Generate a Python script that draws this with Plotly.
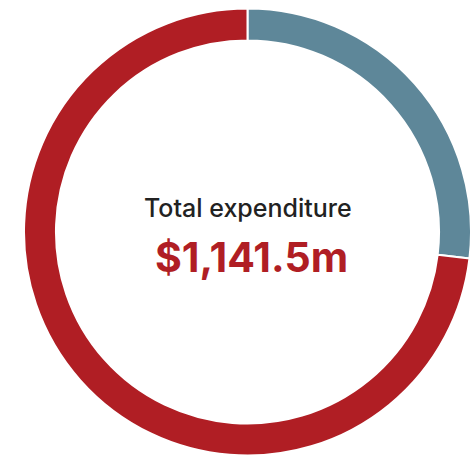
import plotly.graph_objects as go

labels = ["Segment A", "Segment B"]
values = [307.0, 834.5]
colors = ["#5E8799", "#B01E24"]
title_text = "Total expenditure"
total_text = "$1,141.5m"

W, H = 471, 459
fig = go.Figure(go.Pie(
    labels=labels, values=values, sort=False, direction="clockwise", rotation=0,
    hole=0.857, marker=dict(colors=colors, line=dict(color="white", width=2)),
    textinfo="none", hoverinfo="none",
    domain=dict(x=[24 / W, 1], y=[3 / H, 451 / H]),
))
fig.add_annotation(x=248, y=H - 208, xref="x", yref="y", text=title_text, showarrow=False,
                   font=dict(family="Inter", size=25, color="#222222", weight=500))
fig.add_annotation(x=251, y=H - 257, xref="x", yref="y", text=total_text, showarrow=False,
                   font=dict(family="Inter", size=41, color="#B01E24", weight=700))
fig.update_xaxes(range=[0, W], visible=False)
fig.update_yaxes(range=[0, H], visible=False)
fig.update_layout(width=W, height=H, margin=dict(l=0, r=0, t=0, b=0), showlegend=False,
                  paper_bgcolor="white", plot_bgcolor="white")
fig.write_html("out.html", config={"displayModeBar": False},
               post_script="document.body.style.margin='0';document.body.style.overflow='hidden';")
